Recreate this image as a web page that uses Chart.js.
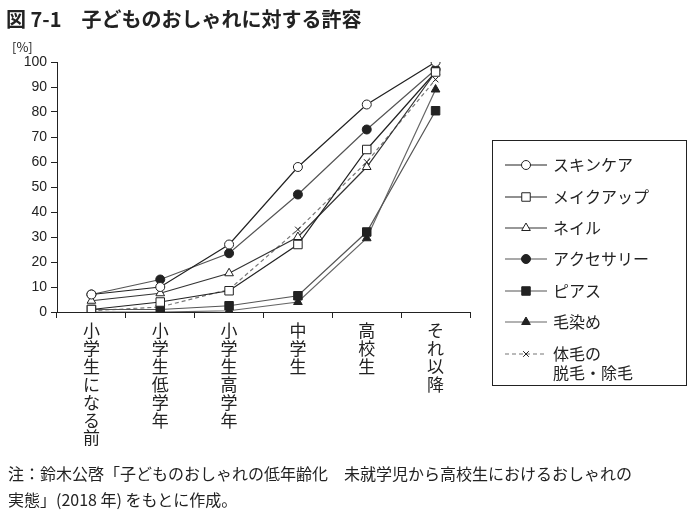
<!DOCTYPE html>
<html><head><meta charset="utf-8">
<script src="https://cdn.jsdelivr.net/npm/chart.js@4"></script>
<style>
body{margin:0;background:#fff;font-family:"Noto Sans CJK JP",sans-serif;color:#222}
#wrap{position:relative;width:692px;height:520px}
canvas{position:absolute;left:0;top:0}
.t{position:absolute;white-space:nowrap}
</style></head><body>
<div id="wrap">
<canvas id="c" width="692" height="520"></canvas>
<div class="t" style="left:6px;top:4px;font-size:20px;font-weight:bold">図 7-1　子どものおしゃれに対する許容</div>
<div class="t" style="left:12px;top:37px;font-size:13px">[%]</div>
<div class="t" style="left:8px;top:460px;font-size:16px;line-height:26px">注：鈴木公啓「子どものおしゃれの低年齢化　未就学児から高校生におけるおしゃれの<br>実態」(2018 年) をもとに作成。</div>
</div>
<script>
"use strict";

// categories (vertical labels, one char per line)
const categories = ['小学生になる前', '小学生低学年', '小学生高学年', '中学生', '高校生', 'それ以降'];
const yTicks = [0, 10, 20, 30, 40, 50, 60, 70, 80, 90, 100];

const skincare = [7, 10, 27, 58, 83, 100];
const makeup = [1, 4, 8.5, 27, 65, 96];
const nail = [4.5, 7.5, 15.5, 30, 58, 96];
const accessory = [7, 13, 23.5, 47, 73, 97];
const piercing = [1, 1, 2.5, 6.5, 32, 80.5];
const hairDye = [0, 0, 0.5, 4, 29.5, 89];
const bodyHair = [0.5, 2, 9, 33, 60, 93];

const seriesNames = ['スキンケア', 'メイクアップ', 'ネイル', 'アクセサリー', 'ピアス', '毛染め', ['体毛の', '脱毛・除毛']];

function ds(label, data, style, fill, color, dash) {
    const r = { rect: 6, crossRot: 4, circle: 4.5, triangle: 5 };
    return {
        label: Array.isArray(label) ? label.join('') : label,
        legendLines: Array.isArray(label) ? label : [label],
        data: data,
        borderColor: color,
        borderWidth: 1.2,
        borderDash: dash || [],
        pointStyle: style,
        pointRadius: r[style],
        pointBackgroundColor: fill,
        pointBorderColor: '#222',
        pointBorderWidth: 1,
        tension: 0
    };
}

const datasets = [
    ds(seriesNames[0], skincare, 'circle', '#fff', '#222'),
    ds(seriesNames[1], makeup, 'rect', '#fff', '#222'),
    ds(seriesNames[2], nail, 'triangle', '#fff', '#333'),
    ds(seriesNames[3], accessory, 'circle', '#222', '#555'),
    ds(seriesNames[4], piercing, 'rect', '#222', '#555'),
    ds(seriesNames[5], hairDye, 'triangle', '#222', '#666'),
    ds(seriesNames[6], bodyHair, 'crossRot', '#fff', '#777', [4, 3])
];

// boxed legend on the right
const boxLegend = {
    id: 'boxLegend',
    afterDraw(chart) {
        const ctx = chart.ctx;
        ctx.save();
        ctx.strokeStyle = '#222';
        ctx.lineWidth = 1;
        ctx.strokeRect(492.5, 140.5, 194, 245);
        ctx.font = '16px "Noto Sans CJK JP"';
        ctx.textBaseline = 'middle';
        const rows = [165, 197, 228, 259, 291, 322, 354];
        chart.data.datasets.forEach((d, i) => {
            const y = rows[i];
            ctx.strokeStyle = d.borderColor;
            ctx.lineWidth = 1.2;
            ctx.setLineDash(d.borderDash);
            ctx.beginPath();
            ctx.moveTo(505, y); ctx.lineTo(547, y); ctx.stroke();
            ctx.setLineDash([]);
            ctx.fillStyle = d.pointBackgroundColor;
            ctx.strokeStyle = '#222';
            ctx.lineWidth = 1;
            Chart.helpers.drawPoint(ctx, { pointStyle: d.pointStyle, radius: d.pointRadius, borderWidth: 1 }, 526, y);
            ctx.fillStyle = '#222';
            d.legendLines.forEach((s, k) => ctx.fillText(s, 553, y + k * 19));
        });
        ctx.restore();
    }
};

new Chart(document.getElementById('c'), {
    type: 'line',
    data: { labels: categories.map(s => s.split('')), datasets: datasets },
    plugins: [boxLegend],
    options: {
        responsive: false,
        animation: false,
        layout: { padding: { left: 0, top: 62, right: 222, bottom: 0 } },
        plugins: { legend: { display: false }, tooltip: { enabled: false } },
        scales: {
            x: {
                offset: true,
                afterFit: s => { s.height = 208; },
                grid: { offset: true, drawOnChartArea: false, tickLength: 6, color: '#222' },
                border: { color: '#222' },
                ticks: { color: '#222', font: { size: 17, family: '"Noto Sans CJK JP"', lineHeight: 1.05 }, maxRotation: 0, padding: 4 }
            },
            y: {
                min: 0, max: 100,
                afterFit: s => { s.width = 57; },
                afterBuildTicks: s => { s.ticks = yTicks.map(v => ({ value: v })); },
                grid: { drawOnChartArea: false, tickLength: 6, color: '#222' },
                border: { color: '#222' },
                ticks: { color: '#222', font: { size: 14, family: '"Liberation Sans"' }, padding: 4 }
            }
        }
    }
});
</script>
</body></html>
